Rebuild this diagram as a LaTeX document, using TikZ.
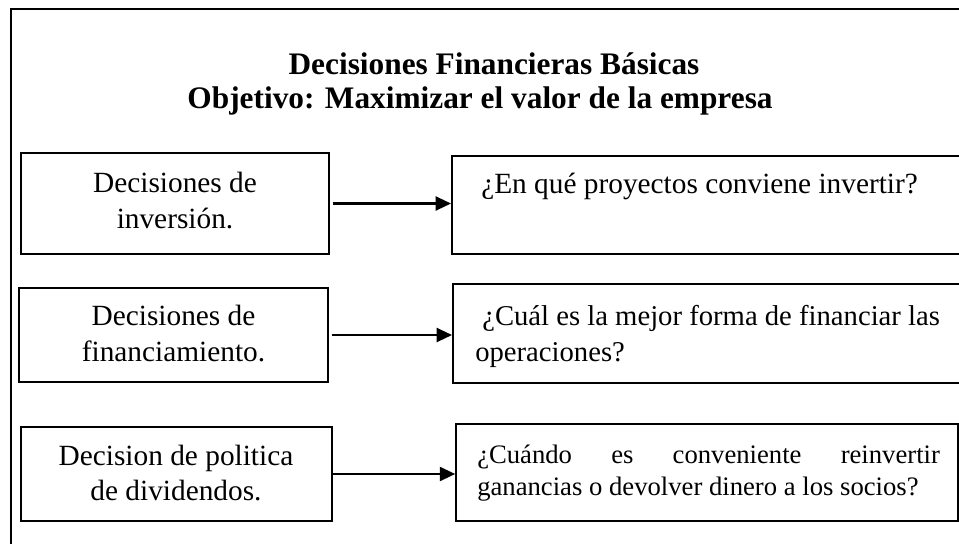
\documentclass[tikz,border=0pt]{standalone}
\usepackage{fontspec}
\setmainfont{Liberation Serif}
\usetikzlibrary{arrows.meta,fit}
\begin{document}
\begin{tikzpicture}[x=0.75pt,y=-0.75pt,
  box/.style={draw,line width=1.5pt,inner sep=0pt},
  txt/.style={inner sep=0pt,font=\fontsize{22}{27}\selectfont},
  txtb/.style={inner sep=0pt,font=\fontsize{21.5}{27}\selectfont},
  txtc/.style={inner sep=0pt,font=\fontsize{20}{24}\selectfont},
  ttl/.style={inner sep=0pt,font=\bfseries\fontsize{23.5}{28}\selectfont},
  arr/.style={line width=1.6pt,-{Triangle[length=11.5pt,width=10.5pt]}}]
\path[use as bounding box] (0,0) rectangle (959,543);
\clip (0,0) rectangle (959,543);
% outer frame
\draw[line width=1.3pt] (11,9) rectangle (980,570);
% title
\node[ttl,anchor=base] (h1) at (494,74) {Decisiones Financieras Básicas};
\node[ttl,anchor=base] (h2) at (480,108) {Objetivo: Maximizar el valor de la empresa};
% left boxes
\node[box,fit={(21,153) (329,254)}] (L1) {};
\node[box,fit={(19,288) (328,382)}] (L2) {};
\node[box,fit={(21,427) (332,521)}] (L3) {};
% right boxes
\node[box,fit={(452,156) (980,254)}] (R1) {};
\node[box,fit={(453,284) (980,383)}] (R2) {};
\node[box,line width=1.2pt,fit={(456,424) (958,521)}] (R3) {};
% left texts
\node[txt,anchor=base] (t1a) at (175,192) {Decisiones de};
\node[txt,anchor=base] (t1b) at (175,228) {inversión.};
\node[txt,anchor=base] (t2a) at (173.5,325.5) {Decisiones de};
\node[txt,anchor=base] (t2b) at (173.5,361.5) {financiamiento.};
\node[txt,anchor=base] (t3a) at (176,465) {Decision de politica};
\node[txt,anchor=base] (t3b) at (176,500.5) {de dividendos.};
% right texts
\node[txt,anchor=base west] (r1a) at (481,193) {¿En qué proyectos conviene invertir?};
\node[txtb,anchor=base west] (r2a) at (482,325) {¿Cuál es la mejor forma de financiar las};
\node[txtb,anchor=base west] (r2b) at (475,361.5) {operaciones?};
\node[txtc,anchor=base west] (r3a) at (477,463) {\hbox to 347pt{¿Cuándo\hfill es\hfill conveniente\hfill reinvertir}};
\node[txtc,anchor=base west] (r3b) at (477,495) {ganancias o devolver dinero a los socios?};
% arrows
\draw[arr] ([xshift=2pt]L1.east) -- (L1.east -| R1.west);
\draw[arr] ([xshift=2pt]L2.east) -- (L2.east -| R2.west);
\draw[arr] (L3.east) -- (L3.east -| R3.west);
\end{tikzpicture}
\end{document}
